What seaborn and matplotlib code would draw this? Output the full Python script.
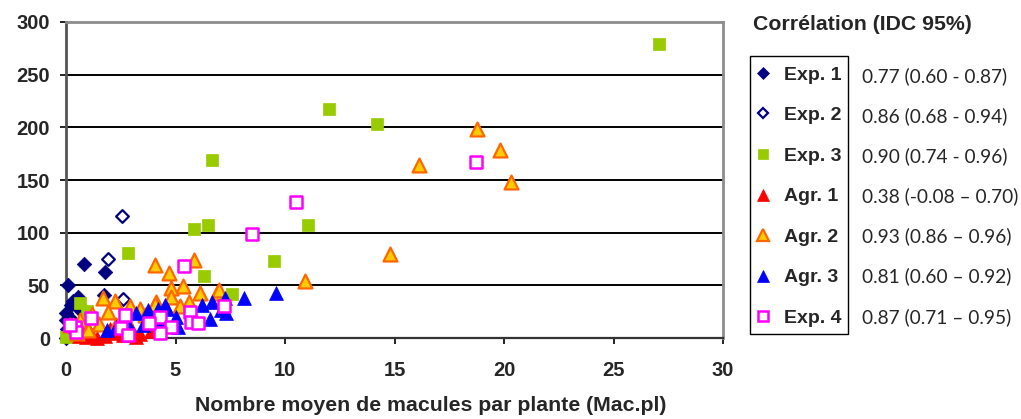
import matplotlib
matplotlib.use("Agg")
import matplotlib.pyplot as plt
import seaborn as sns
import numpy as np
import pandas as pd
from matplotlib.lines import Line2D
from matplotlib.patches import Rectangle

# ---------------- data ----------------
exp1_x = [0.83, 1.8, 0.1, 1.72, 0.55, 0.0, 0.0, 0.0, 0.25, 0.3, 0.15, 0.6, 0.05, 0.4]
exp1_y = [70, 63, 50, 41, 39, 24, 17, 0, 31, 35, 20, 28, 9, 12]

exp2_x = [2.54, 1.9, 2.6, 0.3, 0.1]
exp2_y = [116, 74.7, 37, 15, 5]

exp3_x = [27.1, 12.0, 14.2, 6.65, 5.85, 6.5, 11.05, 9.5, 2.84, 6.3, 7.6, 0.64, 0.94, 0.0, 0.2]
exp3_y = [279, 217, 203, 169, 103.5, 107, 107, 73, 81, 59, 42, 33, 26, 1, 3]

agr1_x = [0.6, 0.9, 1.2, 1.4, 1.1, 2.3, 2.6, 3.0, 3.4, 3.9, 1.8, 2.0, 0.8, 3.2]
agr1_y = [2, 1, 3, 0, 6, 5, 3, 8, 4, 7, 2, 9, 8, 1]

agr2_x = [18.75, 19.8, 16.1, 20.3, 14.8, 10.9, 4.06, 5.85, 4.7, 5.35, 4.8, 6.1, 6.9, 4.8,
          4.1, 5.6, 1.7, 2.26, 4.06, 3.37, 2.9, 1.93, 1.17, 0.64, 0.18, 1.5, 2.7, 3.6,
          7.0, 1.0, 2.3, 5.2, 0.5]
agr2_y = [198.5, 178.5, 164, 148, 80, 54.5, 69, 74, 62, 49, 47.5, 43, 43, 39,
          34, 34, 38, 35, 32, 27.5, 30, 25, 23, 17, 12, 13, 20, 22,
          46, 8, 12, 30, 5]

agr3_x = [9.6, 8.15, 7.25, 6.65, 6.2, 7.1, 4.5, 4.2, 3.75, 3.2, 5.0, 6.57, 5.1, 2.3, 1.86,
          4.6, 2.8, 3.5, 4.3, 7.3]
agr3_y = [43, 38, 38, 34.5, 31, 27, 31, 28, 26.6, 23.4, 20, 17.7, 10.7, 10.7, 7.6,
          28, 15, 12, 16, 24]

exp4_x = [18.7, 10.5, 8.5, 5.4, 7.2, 5.65, 5.7, 6.05, 4.3, 4.8, 4.3, 3.8, 2.7, 2.5, 2.84,
          1.14, 0.41, 0.44, 0.2]
exp4_y = [167, 129, 99, 68.5, 30, 25, 15.5, 14.5, 20, 10.7, 5, 14.5, 22, 9.2, 2.8,
          18.7, 10.7, 6, 12]

series_names = ["Exp. 1", "Exp. 2", "Exp. 3", "Agr. 1", "Agr. 2", "Agr. 3", "Exp. 4"]
correlations = ["0.77 (0.60 - 0.87)", "0.86 (0.68 - 0.94)", "0.90 (0.74 - 0.96)",
                "0.38 (-0.08 \u2013 0.70)", "0.93 (0.86 \u2013 0.96)",
                "0.81 (0.60 \u2013 0.92)", "0.87 (0.71 \u2013 0.95)"]
x_ticks = [0, 5, 10, 15, 20, 25, 30]
y_ticks = [0, 50, 100, 150, 200, 250, 300]

# ---------------- style ----------------
sns.set_theme(style="white")
plt.rcParams["font.family"] = ["Liberation Sans", "DejaVu Sans"]

W, H = 1021, 419
fig = plt.figure(figsize=(W / 100, H / 100), dpi=100)
ax = fig.add_axes([66 / W, 1 - 338 / H, (723 - 66) / W, (338 - 22) / H])

styles = [
    dict(marker="D", s=55, face="#000080", edge="#000080", lw=0.5),
    dict(marker="D", s=42, face="white", edge="#000080", lw=1.6),
    dict(marker="s", s=85, face="#99CC00", edge="#99CC00", lw=0.5),
    dict(marker="^", s=100, face="#FF0000", edge="#FF0000", lw=0.5),
    dict(marker="^", s=100, face="#FFCC00", edge="#FF6600", lw=1.6),
    dict(marker="^", s=100, face="#0000FF", edge="#0000FF", lw=0.5),
    dict(marker="s", s=75, face="white", edge="#FF00FF", lw=1.8),
]
xs = [exp1_x, exp2_x, exp3_x, agr1_x, agr2_x, agr3_x, exp4_x]
ys = [exp1_y, exp2_y, exp3_y, agr1_y, agr2_y, agr3_y, exp4_y]

for name, x, y, st in zip(series_names, xs, ys, styles):
    df = pd.DataFrame({"x": x, "y": y})
    sns.scatterplot(data=df, x="x", y="y", ax=ax, marker=st["marker"], s=st["s"],
                    color=st["edge"], legend=False, clip_on=False, zorder=3)
    coll = ax.collections[-1]
    coll.set_facecolor(st["face"])
    coll.set_edgecolor(st["edge"])
    coll.set_linewidth(st["lw"])

ax.set_xlim(0, 30)
ax.set_ylim(0, 300)
ax.set_xticks(x_ticks)
ax.set_yticks(y_ticks)
ax.set_xticklabels([str(v) for v in x_ticks], fontsize=14.5, fontweight="bold")
ax.set_yticklabels([str(v) for v in y_ticks], fontsize=14.5, fontweight="bold")
ax.set_xlabel("")
ax.set_ylabel("")
ax.tick_params(axis="both", which="both", direction="out", length=4.5, width=1.2,
               color="black", bottom=True, left=True)
ax.tick_params(axis="x", pad=12)
ax.tick_params(axis="y", pad=7)

for yv in y_ticks[1:-1]:
    ax.axhline(yv, color="black", lw=1.4, zorder=1)
ax.grid(False)
for side in ["top", "right"]:
    ax.spines[side].set_color("#8c8c8c")
    ax.spines[side].set_linewidth(2)
ax.spines["left"].set_color("#555555")
ax.spines["left"].set_linewidth(2)
ax.spines["bottom"].set_color("#333333")
ax.spines["bottom"].set_linewidth(1.6)

fig.text(431 / W, 1 - 405 / H, "Nombre moyen de macules par plante (Mac.pl)",
         ha="center", va="center", fontsize=15.3, fontweight="bold")

# legend box drawn in figure pixels
fig.patches.append(Rectangle((750 / W, 1 - 334 / H), (848 - 750) / W, (334 - 56) / H,
                             transform=fig.transFigure, fill=False,
                             edgecolor="black", linewidth=1.0))

handles = [Line2D([], [], linestyle="none", marker=st["marker"],
                  markersize=np.sqrt(st["s"]) * 0.85,
                  markerfacecolor=st["face"], markeredgecolor=st["edge"],
                  markeredgewidth=st["lw"]) for st in styles]
leg = ax.legend(handles, series_names, loc="center left",
                bbox_to_anchor=(756 / W, 1 - 196.5 / H), bbox_transform=fig.transFigure,
                frameon=False, prop={"weight": "bold", "size": 14},
                labelspacing=1.18, handlelength=0.7, handletextpad=0.75,
                borderpad=0, borderaxespad=0)

fig.text(753 / W, 1 - 25 / H, "Corr\u00e9lation (IDC 95%)", ha="left", va="center",
         fontsize=15.3, fontweight="bold")
row_y = [76, 116, 156, 196, 236, 276, 317]
for yy, txt in zip(row_y, correlations):
    fig.text(862 / W, 1 - yy / H, txt, ha="left", va="center", fontsize=13.8,
             family=["Lato", "DejaVu Sans"])

fig.savefig("out.png", dpi=100)
